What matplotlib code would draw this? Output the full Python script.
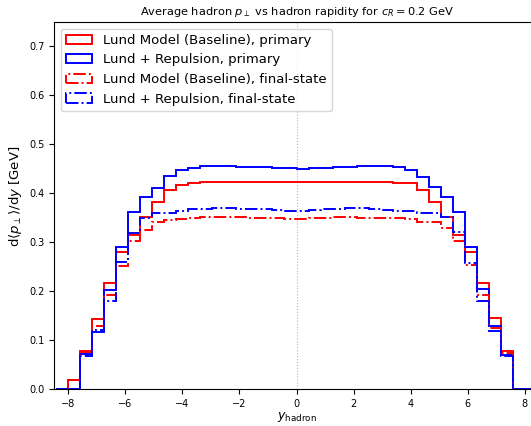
import numpy as np
import matplotlib
matplotlib.use("Agg")
import matplotlib.pyplot as plt

# bin edges: 40 bins of width 16/38 from -8.42 to 8.42
bin_width = 16.0 / 38.0
edges = -8.0 - bin_width + bin_width * np.arange(41)
centers = 0.5 * (edges[:-1] + edges[1:])

lund_primary = [0.000, 0.018, 0.079, 0.143, 0.218, 0.281, 0.315, 0.351, 0.383, 0.407,
                0.417, 0.421, 0.423, 0.423, 0.424, 0.424, 0.424, 0.423, 0.423, 0.423,
                0.423, 0.423, 0.424, 0.424, 0.424, 0.423, 0.423, 0.423, 0.422, 0.421,
                0.406, 0.383, 0.351, 0.315, 0.281, 0.218, 0.145, 0.079, 0.000, 0.000]
rep_primary = [0.000, 0.000, 0.072, 0.118, 0.203, 0.291, 0.363, 0.392, 0.412, 0.436,
               0.447, 0.4515, 0.455, 0.456, 0.455, 0.454, 0.453, 0.453, 0.452, 0.451,
               0.450, 0.451, 0.452, 0.453, 0.454, 0.455, 0.455, 0.455, 0.4536, 0.448,
               0.434, 0.413, 0.392, 0.363, 0.291, 0.204, 0.129, 0.070, 0.000, 0.000]
lund_final = [0.000, 0.018, 0.076, 0.130, 0.193, 0.252, 0.302, 0.326, 0.342, 0.346,
              0.348, 0.350, 0.351, 0.351, 0.351, 0.351, 0.350, 0.350, 0.349, 0.348,
              0.348, 0.349, 0.350, 0.351, 0.351, 0.350, 0.350, 0.349, 0.349, 0.348,
              0.342, 0.342, 0.329, 0.302, 0.254, 0.193, 0.125, 0.075, 0.000, 0.000]
rep_final = [0.000, 0.000, 0.068, 0.121, 0.181, 0.259, 0.320, 0.350, 0.360, 0.360,
             0.364, 0.368, 0.369, 0.370, 0.370, 0.369, 0.369, 0.368, 0.367, 0.365,
             0.364, 0.366, 0.368, 0.369, 0.370, 0.370, 0.369, 0.367, 0.365, 0.365,
             0.361, 0.359, 0.351, 0.322, 0.257, 0.181, 0.120, 0.068, 0.000, 0.000]

labels = ["Lund Model (Baseline), primary", "Lund + Repulsion, primary",
          "Lund Model (Baseline), final-state", "Lund + Repulsion, final-state"]

fig = plt.figure(figsize=(5.31, 4.26), dpi=100)
ax = fig.add_axes([54 / 531, (426 - 389.3) / 426, 485 / 531, (389.3 - 22) / 426])

ax.hist(centers, bins=edges, weights=lund_primary, histtype="step", color="red",
        linewidth=1.4, label=labels[0])
ax.hist(centers, bins=edges, weights=rep_primary, histtype="step", color="blue",
        linewidth=1.4, label=labels[1])
ax.hist(centers, bins=edges, weights=lund_final, histtype="step", color="red",
        linewidth=1.4, linestyle="-.", label=labels[2])
ax.hist(centers, bins=edges, weights=rep_final, histtype="step", color="blue",
        linewidth=1.4, linestyle="-.", label=labels[3])

ax.axvline(0, color="gray", linestyle=":", linewidth=0.8, alpha=0.6)

ax.set_xlim(-8.5, 8.5)
ax.set_ylim(0, 0.75)
ax.set_xticks(np.arange(-8, 9, 2))
ax.set_yticks(np.arange(0, 0.71, 0.1))
ax.tick_params(labelsize=7)

ax.set_title(r"Average hadron $p_\perp$ vs hadron rapidity for $c_R = 0.2$ GeV",
             fontsize=8.2, pad=5)
ax.set_xlabel(r"$y_{\rm hadron}$", fontsize=9, labelpad=1)
ax.set_ylabel(r"d$\langle p_\perp \rangle$/d$y$ [GeV]", fontsize=9.5)
ax.yaxis.set_label_coords(-0.062, 0.525)
ax.legend(loc="upper left", fontsize=9.5)

fig.savefig("out.png", dpi=100)
